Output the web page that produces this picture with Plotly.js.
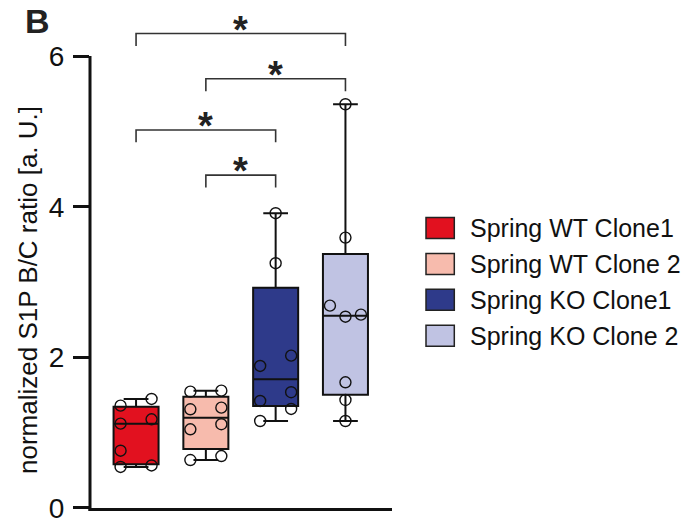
<!DOCTYPE html>
<html>
<head>
<meta charset="utf-8">
<script src="https://cdn.plot.ly/plotly-3.0.1.min.js"></script>
<style>html,body{margin:0;padding:0;background:#fff;}#chart{width:700px;height:522px;}</style>
</head>
<body>
<div id="chart"></div>
<script>
// ---- data ----
const groups = ['Spring WT Clone1', 'Spring WT Clone 2', 'Spring KO Clone1', 'Spring KO Clone 2'];
const groupPos = [1, 2, 3, 4];
const boxQ1 = [0.58, 0.784, 1.355, 1.505];
const boxMedian = [1.12, 1.199, 1.709, 2.554];
const boxQ3 = [1.345, 1.478, 2.926, 3.373];
const boxMin = [0.545, 0.637, 1.155, 1.155];
const boxMax = [1.448, 1.558, 3.914, 5.361];

const pointsWT1 = [1.359, 1.448, 1.12, 1.178, 0.761, 0.545, 0.565];
const pointsWT2 = [1.545, 1.558, 1.311, 1.332, 1.045, 1.112, 0.637, 0.69];
const pointsKO1 = [3.914, 3.25, 1.886, 2.023, 1.421, 1.537, 1.315, 1.155];
const pointsKO2 = [5.361, 3.59, 2.687, 2.54, 2.567, 1.669, 1.434, 1.155];
const groupPoints = [pointsWT1, pointsWT2, pointsKO1, pointsKO2];
// point column per value: -1 left, 0 centre, 1 right
const sideWT1 = [-1, 1, -1, 1, -1, -1, 1];
const sideWT2 = [-1, 1, -1, 1, -1, 1, -1, 1];
const sideKO1 = [0, 0, -1, 1, -1, 1, 1, -1];
const sideKO2 = [0, 0, -1, 0, 1, 0, 0, 0];
const groupSides = [sideWT1, sideWT2, sideKO1, sideKO2];

// significance comparisons (group index from, to) and bracket heights
const sigFrom = [0, 1, 0, 1];
const sigTo = [3, 3, 2, 2];
const sigHeight = [6.30, 5.70, 5.02, 4.42];
const sigLabel = ['*', '*', '*', '*'];

const yTicks = [0, 2, 4, 6];
const yTitle = 'normalized S1P B/C ratio [a. U.]';
const panelLabel = 'B';

// ---- styles ----
const colors = ['#E2111F', '#F7BBAD', '#2E3A8A', '#C0C3E3'];
const FONT = 'Liberation Sans, Arial, Helvetica, sans-serif';
const jitter = 0.222;
const yRange = [-0.04, 6.4];
const margin = {l: 90, r: 308, t: 26, b: 11};
const plotW = 700 - margin.l - margin.r;
const plotH = 522 - margin.t - margin.b;
const yFrac = v => (v - yRange[0]) / (yRange[1] - yRange[0]);

const traces = [];
for (let i = 0; i < groups.length; i++) {
  traces.push({
    type: 'box', name: groups[i], x: [groupPos[i]],
    q1: [boxQ1[i]], median: [boxMedian[i]], q3: [boxQ3[i]],
    lowerfence: [boxMin[i]], upperfence: [boxMax[i]],
    boxpoints: false, width: 0.645, whiskerwidth: 0.55,
    fillcolor: colors[i], line: {color: '#111', width: 2},
    showlegend: false, hoverinfo: 'skip'
  });
}
for (let i = 0; i < groups.length; i++) {
  traces.push({
    type: 'scatter', mode: 'markers', name: groups[i] + ' points',
    x: groupSides[i].map(s => groupPos[i] + s * jitter),
    y: groupPoints[i],
    marker: {symbol: 'circle-open', size: 11, color: '#111', line: {width: 1.4, color: '#111'}},
    cliponaxis: false, showlegend: false, hoverinfo: 'skip'
  });
}

const shapes = [];
const annotations = [];
const drop = 0.165;
for (let k = 0; k < sigFrom.length; k++) {
  const xa = groupPos[sigFrom[k]], xb = groupPos[sigTo[k]], h = sigHeight[k];
  shapes.push({
    type: 'path', xref: 'x', yref: 'y',
    path: `M ${xa},${h - drop} L ${xa},${h} L ${xb},${h} L ${xb},${h - drop}`,
    line: {color: '#333', width: 1.6}
  });
  annotations.push({
    xref: 'x', yref: 'y', x: (xa + xb) / 2, y: h, yanchor: 'middle', xanchor: 'center',
    yshift: 4, text: '<b>' + sigLabel[k] + '</b>', showarrow: false,
    font: {family: FONT, size: 38, color: '#222'}
  });
}
// axis lines: y from 0 to 6 only, x along y = 0
shapes.push({
  type: 'line', xref: 'paper', yref: 'paper', x0: 0, x1: 0,
  y0: yFrac(0) - 3 / plotH, y1: yFrac(yTicks[yTicks.length - 1]),
  line: {color: '#111', width: 3}
});
shapes.push({
  type: 'line', xref: 'paper', yref: 'paper', x0: -1.5 / plotW, x1: 1,
  y0: yFrac(0) - 1.5 / plotH, y1: yFrac(0) - 1.5 / plotH,
  line: {color: '#111', width: 3}
});

// legend (manual, large swatches)
const px = x => (x - margin.l) / plotW;
const py = y => (522 - margin.b - y) / plotH;
const legTop = 228, legStep = 35.9;
for (let i = 0; i < groups.length; i++) {
  const cy = legTop + i * legStep;
  shapes.push({
    type: 'rect', xref: 'paper', yref: 'paper',
    x0: px(426), x1: px(454.3), y0: py(cy + 10.5), y1: py(cy - 10.5),
    fillcolor: colors[i], line: {color: '#222', width: 1.5}
  });
  annotations.push({
    xref: 'paper', yref: 'paper', x: px(468), y: py(cy), xanchor: 'left', yanchor: 'middle',
    text: groups[i], showarrow: false, font: {family: FONT, size: 25, color: '#111'}
  });
}
// y title
annotations.push({
  xref: 'paper', yref: 'paper', x: px(28), y: py(290), xanchor: 'center', yanchor: 'middle',
  textangle: -90, text: yTitle, showarrow: false, font: {family: FONT, size: 26, color: '#111'}
});
// panel label
annotations.push({
  xref: 'paper', yref: 'paper', x: px(37.5), y: py(0), xanchor: 'center', yanchor: 'top',
  text: '<b>' + panelLabel + '</b>', showarrow: false, font: {family: FONT, size: 34, color: '#222'}
});

const layout = {
  width: 700, height: 522, margin: margin,
  paper_bgcolor: '#fff', plot_bgcolor: '#fff',
  showlegend: false,
  font: {family: FONT, color: '#111'},
  xaxis: {
    type: 'linear', range: [0.34, 4.667], showticklabels: false, ticks: '',
    showgrid: false, zeroline: false, showline: false
  },
  yaxis: {
    range: yRange, tickmode: 'array', tickvals: yTicks, ticktext: yTicks.map(v => String(v)),
    ticks: 'outside', ticklen: 16, tickwidth: 3, tickcolor: '#111',
    tickfont: {family: FONT, size: 28, color: '#111'}, ticklabelstandoff: 3,
    ticklabeloverflow: 'allow',
    showgrid: false, zeroline: false, showline: false
  },
  shapes: shapes, annotations: annotations
};

Plotly.newPlot('chart', traces, layout, {staticPlot: true, displayModeBar: false});
</script>
</body>
</html>
